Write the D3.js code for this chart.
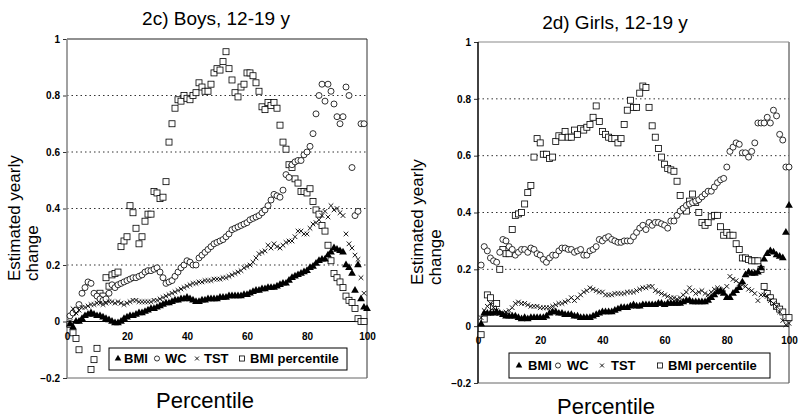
<!DOCTYPE html>
<html>
<head>
<meta charset="utf-8">
<script src="https://cdn.jsdelivr.net/npm/d3@7"></script>
<style>
  html, body { margin: 0; padding: 0; background: #fff; }
  svg { display: block; font-family: "Liberation Sans", Arial, sans-serif; }
</style>
</head>
<body>
<svg id="chart" width="800" height="418"></svg>
<script>
// ---------------- DATA ----------------
const percentiles = d3.range(1, 101);
const xTicks = [0, 20, 40, 60, 80, 100];
const yTicks = [-0.2, 0, 0.2, 0.4, 0.6, 0.8, 1];
const gridValues = [0.2, 0.4, 0.6, 0.8];
const seriesNames = ["BMI", "WC", "TST", "BMI percentile"];
const panelTitles = ["2c) Boys, 12-19 y", "2d) Girls, 12-19 y"];
const xTitle = "Percentile";
const yTitleLines = ["Estimated yearly", "change"];

const boysBMI = [-0.01,-0.02,0.0,0.0,0.01,0.02,0.025,0.03,0.025,0.02,
 0.02,0.015,0.01,0.005,0.0,-0.005,-0.005,0.0,0.01,0.015,
 0.02,0.02,0.025,0.03,0.03,0.035,0.04,0.045,0.045,0.05,
 0.055,0.06,0.065,0.065,0.07,0.075,0.075,0.08,0.08,0.085,
 0.08,0.075,0.07,0.07,0.075,0.075,0.08,0.08,0.08,0.08,
 0.085,0.085,0.085,0.09,0.09,0.09,0.09,0.09,0.095,0.095,
 0.10,0.105,0.11,0.11,0.115,0.115,0.12,0.12,0.12,0.125,
 0.13,0.135,0.135,0.145,0.155,0.16,0.165,0.17,0.175,0.18,
 0.19,0.195,0.205,0.215,0.22,0.22,0.235,0.245,0.26,0.255,
 0.25,0.245,0.20,0.19,0.17,0.11,0.20,0.08,0.05,0.045];

const boysWC = [0.02,0.03,0.04,0.06,0.10,0.12,0.14,0.135,0.10,0.09,
 0.08,0.075,0.08,0.10,0.13,0.12,0.13,0.135,0.14,0.145,
 0.15,0.155,0.155,0.16,0.165,0.175,0.18,0.18,0.185,0.19,
 0.175,0.155,0.135,0.14,0.145,0.16,0.175,0.19,0.20,0.215,
 0.21,0.20,0.20,0.225,0.235,0.245,0.255,0.265,0.275,0.28,
 0.285,0.29,0.30,0.31,0.325,0.33,0.335,0.34,0.345,0.35,
 0.36,0.365,0.37,0.375,0.385,0.395,0.41,0.43,0.45,0.445,
 0.44,0.465,0.52,0.51,0.555,0.565,0.57,0.57,0.59,0.60,
 0.62,0.665,0.735,0.80,0.84,0.78,0.84,0.815,0.77,0.725,
 0.70,0.725,0.83,0.80,0.545,0.375,0.39,0.70,0.70,null];

const boysTST = [0.0,0.045,0.03,0.04,0.05,0.05,0.055,0.06,0.06,0.065,
 0.065,0.06,0.065,0.07,0.07,0.065,0.07,0.065,0.06,0.065,
 0.07,0.075,0.075,0.07,0.07,0.07,0.07,0.07,0.075,0.075,
 0.08,0.085,0.09,0.095,0.10,0.105,0.11,0.115,0.12,0.125,
 0.13,0.135,0.135,0.14,0.14,0.145,0.145,0.145,0.15,0.15,
 0.15,0.155,0.155,0.16,0.165,0.17,0.175,0.18,0.19,0.195,
 0.20,0.21,0.225,0.24,0.245,0.25,0.27,0.26,0.275,0.265,
 0.26,0.27,0.28,0.285,0.285,0.30,0.32,0.32,0.31,0.31,
 0.33,0.345,0.35,0.36,0.375,0.39,0.37,0.41,0.395,0.40,
 0.385,0.375,0.31,0.275,0.26,0.235,0.22,0.155,0.10,null];

const boysBMIpct = [-0.01,-0.04,-0.06,-0.10,null,null,null,-0.17,-0.135,-0.095,
 0.10,0.09,0.155,0.125,0.165,0.17,0.175,0.265,0.285,0.30,
 0.41,0.385,0.33,0.275,0.30,0.355,0.38,0.38,0.46,0.455,
 0.435,0.44,0.495,0.635,0.70,0.755,0.785,0.78,0.80,0.79,
 0.785,0.80,0.81,0.845,0.83,0.815,0.815,0.84,0.88,0.895,
 0.89,0.92,0.955,0.895,0.855,0.81,0.795,0.83,0.84,0.88,
 0.88,0.87,0.845,0.815,0.76,0.75,0.775,0.765,0.775,0.755,
 0.695,0.635,0.61,0.555,0.545,0.505,0.49,0.46,0.46,0.455,
 0.47,0.425,0.395,0.38,0.34,0.32,0.27,0.215,0.17,0.155,
 0.14,0.12,0.09,0.075,0.067,0.046,0.01,0.0,0.0,null];

const girlsBMI = [0.008,0.045,0.045,0.045,0.045,0.05,0.045,0.04,0.035,0.035,
 0.035,0.035,0.03,0.025,0.03,0.025,0.03,0.03,0.03,0.03,
 0.03,0.035,0.045,0.05,0.05,0.045,0.045,0.04,0.04,0.04,
 0.035,0.035,0.03,0.03,0.03,0.03,0.035,0.04,0.045,0.05,
 0.05,0.05,0.05,0.055,0.06,0.065,0.065,0.065,0.07,0.075,
 0.07,0.07,0.075,0.075,0.075,0.075,0.075,0.08,0.08,0.075,
 0.08,0.08,0.08,0.08,0.08,0.085,0.09,0.09,0.085,0.085,
 0.085,0.085,0.085,0.09,0.10,0.11,0.12,0.125,0.115,0.10,
 0.10,0.115,0.125,0.135,0.155,0.18,0.19,0.185,0.185,0.19,
 0.205,0.235,0.255,0.265,0.26,0.25,0.245,0.24,0.33,0.425];

const girlsWC = [0.215,0.28,0.265,0.24,0.23,0.225,0.26,0.305,0.30,0.28,
 0.27,0.25,0.26,0.27,0.27,0.26,0.275,0.27,0.255,0.25,
 0.235,0.225,0.24,0.25,0.25,0.265,0.275,0.275,0.27,0.27,
 0.26,0.265,0.27,0.25,0.25,0.265,0.27,0.28,0.305,0.30,
 0.31,0.315,0.305,0.30,0.295,0.295,0.30,0.30,0.30,0.315,
 0.33,0.345,0.355,0.34,0.365,0.355,0.365,0.365,0.36,0.355,
 0.345,0.37,0.37,0.39,0.405,0.415,0.425,0.43,0.435,0.44,
 0.445,0.455,0.465,0.475,0.475,0.49,0.505,0.515,0.52,0.56,
 0.615,0.63,0.645,0.64,0.61,0.61,0.595,0.615,0.645,0.715,
 0.715,0.715,0.735,0.715,0.76,0.74,0.675,0.655,0.56,0.56];

const girlsTST = [0.03,0.055,0.07,0.08,0.065,0.055,0.045,0.045,0.05,0.055,
 0.065,0.08,0.085,0.08,0.08,0.075,0.07,0.07,0.07,0.065,
 0.065,0.065,0.065,0.07,0.075,0.08,0.08,0.085,0.09,0.10,
 0.09,0.10,0.11,0.12,0.125,0.135,0.13,0.125,0.12,0.12,
 0.11,0.11,0.11,0.115,0.115,0.115,0.115,0.12,0.12,0.12,
 0.125,0.13,0.135,0.135,0.14,0.14,0.125,0.12,0.115,0.11,
 0.105,0.10,0.10,0.095,0.10,0.11,0.12,0.135,0.125,0.115,
 0.12,0.125,0.115,0.11,0.12,0.13,0.135,0.12,0.13,0.14,
 0.175,0.165,0.16,0.15,0.145,0.14,0.13,0.125,0.115,0.09,
 0.11,0.11,0.105,0.09,0.08,0.07,0.05,0.02,0.005,0.01];

const girlsBMIpct = [-0.03,0.025,0.11,0.10,0.07,0.08,0.20,0.27,0.255,0.255,
 0.34,0.39,0.395,0.40,0.43,0.47,0.495,0.595,0.66,0.645,
 0.605,0.605,0.59,0.595,0.65,0.67,0.665,0.685,0.665,0.665,
 0.69,0.675,0.695,0.69,0.70,0.71,0.735,0.775,0.72,0.685,
 0.675,0.665,0.66,0.66,0.645,0.66,0.71,0.76,0.795,0.77,
 0.77,0.82,0.845,0.84,0.77,0.705,0.665,0.625,0.595,0.57,
 0.555,0.55,0.545,0.51,0.46,0.41,0.405,0.44,0.465,0.435,
 0.40,0.365,0.355,0.365,0.385,0.39,0.39,0.35,0.32,0.33,
 0.32,0.32,0.29,0.27,0.24,0.24,0.235,0.23,0.23,0.23,
 0.20,0.14,0.115,0.10,0.085,0.07,0.06,0.05,0.03,0.03];

// ---------------- LAYOUT ----------------
const svg = d3.select("#chart");
const FONT = '"Liberation Sans", Arial, sans-serif';

const panels = [
  { title: panelTitles[0], series: [boysBMI, boysWC, boysTST, boysBMIpct],
    left: 67, right: 367, top: 39, bottom: 378,
    leftAxisColor: "#8a8a8a", topColor: "#222",
    titleX: 216, titleY: 25,
    xTitleX: 205, xTitleY: 408,
    yTitleX: [20, 38], yTitleY: 281,
    legend: { x: 109, y: 348, w: 238, h: 22, textY: 363,
              markerX: [118, 157, 197, 242], textX: [124, 165, 204, 250] } },
  { title: panelTitles[1], series: [girlsBMI, girlsWC, girlsTST, girlsBMIpct],
    left: 478, right: 789, top: 42, bottom: 383,
    leftAxisColor: "#111", topColor: "#8a8a8a",
    titleX: 615, titleY: 29,
    xTitleX: 606, xTitleY: 414,
    yTitleX: [423, 441], yTitleY: 285,
    legend: { x: 509, y: 353, w: 261, h: 25, textY: 370,
              markerX: [519, 558, 602, 660], textX: [528, 567, 611, 668] } }
];

function drawMarker(g, kind, cx, cy, scale) {
  const s = scale || 1;
  if (kind === 0) {
    g.append("path").attr("d", d3.symbol().type(d3.symbolTriangle).size(26 * s * s)())
      .attr("transform", `translate(${cx},${cy})`).attr("fill", "#000");
  } else if (kind === 1) {
    g.append("circle").attr("cx", cx).attr("cy", cy).attr("r", 3 * s)
      .attr("fill", "#fff").attr("stroke", "#000").attr("stroke-width", 0.8);
  } else if (kind === 2) {
    const h = 2.3 * s;
    g.append("path").attr("d", `M${cx-h},${cy-h}L${cx+h},${cy+h}M${cx-h},${cy+h}L${cx+h},${cy-h}`)
      .attr("stroke", "#000").attr("stroke-width", 0.9).attr("fill", "none");
  } else {
    const h = 3 * s;
    g.append("rect").attr("x", cx - h).attr("y", cy - h).attr("width", 2 * h).attr("height", 2 * h)
      .attr("fill", "#fff").attr("stroke", "#000").attr("stroke-width", 0.8);
  }
}

panels.forEach(p => {
  const x = d3.scaleLinear().domain([0, 100]).range([p.left, p.right]);
  const y = d3.scaleLinear().domain([-0.2, 1]).range([p.bottom, p.top]);
  const g = svg.append("g");

  g.append("line").attr("x1", p.right).attr("x2", p.right).attr("y1", p.top).attr("y2", p.bottom)
    .attr("stroke", "#333").attr("stroke-width", 1);
  g.append("line").attr("x1", p.left).attr("x2", p.right).attr("y1", p.bottom).attr("y2", p.bottom)
    .attr("stroke", "#666").attr("stroke-width", 1);
  g.append("line").attr("x1", p.left).attr("x2", p.right).attr("y1", p.top).attr("y2", p.top)
    .attr("stroke", p.topColor).attr("stroke-width", 1.2);

  g.selectAll(".grid").data(gridValues).enter().append("line")
    .attr("x1", p.left).attr("x2", p.right)
    .attr("y1", d => y(d)).attr("y2", d => y(d))
    .attr("stroke", "#333").attr("stroke-width", 1).attr("stroke-dasharray", "1.5,3");

  g.append("line").attr("x1", p.left).attr("x2", p.right).attr("y1", y(0)).attr("y2", y(0))
    .attr("stroke", "#000").attr("stroke-width", 1.2);

  const yAxis = d3.axisLeft(y).tickValues(yTicks).tickSize(4).tickPadding(3)
    .tickFormat(d => d3.format("")(+d.toFixed(1)));
  const ya = g.append("g").attr("transform", `translate(${p.left},0)`).call(yAxis);
  ya.select(".domain").remove();
  ya.selectAll("line").attr("stroke", "#333");
  ya.selectAll("text").attr("font-family", FONT).attr("font-size", 10).attr("font-weight", "bold").attr("fill", "#000");
  g.append("line").attr("x1", p.left).attr("x2", p.left).attr("y1", p.top).attr("y2", p.bottom)
    .attr("stroke", p.leftAxisColor).attr("stroke-width", 1.6);

  const xAxis = d3.axisBottom(x).tickValues(xTicks).tickSize(0).tickPadding(11);
  const xa = g.append("g").attr("transform", `translate(0,${y(0)})`).call(xAxis);
  xa.select(".domain").remove();
  xa.selectAll("text").attr("font-family", FONT).attr("font-size", 10).attr("font-weight", "bold").attr("fill", "#000");

  const order = [3, 1, 2, 0];
  order.forEach(k => {
    const vals = p.series[k];
    const mg = g.append("g");
    percentiles.forEach((pc, i) => {
      const v = vals[i];
      if (v === null || v === undefined) return;
      drawMarker(mg, k, x(pc), y(v), 1);
    });
  });

  const L = p.legend;
  g.append("rect").attr("x", L.x).attr("y", L.y).attr("width", L.w).attr("height", L.h)
    .attr("fill", "#fff").attr("stroke", "#000").attr("stroke-width", 1);
  seriesNames.forEach((name, k) => {
    drawMarker(g, k, L.markerX[k], L.textY - 4.5, 0.85);
    g.append("text").attr("x", L.textX[k]).attr("y", L.textY)
      .attr("font-family", FONT).attr("font-size", 13).attr("font-weight", "bold")
      .text(name);
  });

  g.append("text").attr("x", p.titleX).attr("y", p.titleY).attr("text-anchor", "middle")
    .attr("font-family", FONT).attr("font-size", 19).text(p.title);
  g.append("text").attr("x", p.xTitleX).attr("y", p.xTitleY).attr("text-anchor", "middle")
    .attr("font-family", FONT).attr("font-size", 22).text(xTitle);
  yTitleLines.forEach((line, li) => {
    g.append("text")
      .attr("transform", `translate(${p.yTitleX[li]},${p.yTitleY}) rotate(-90)`)
      .attr("text-anchor", "start")
      .attr("font-family", FONT).attr("font-size", 17).text(line);
  });
});
</script>
</body>
</html>
